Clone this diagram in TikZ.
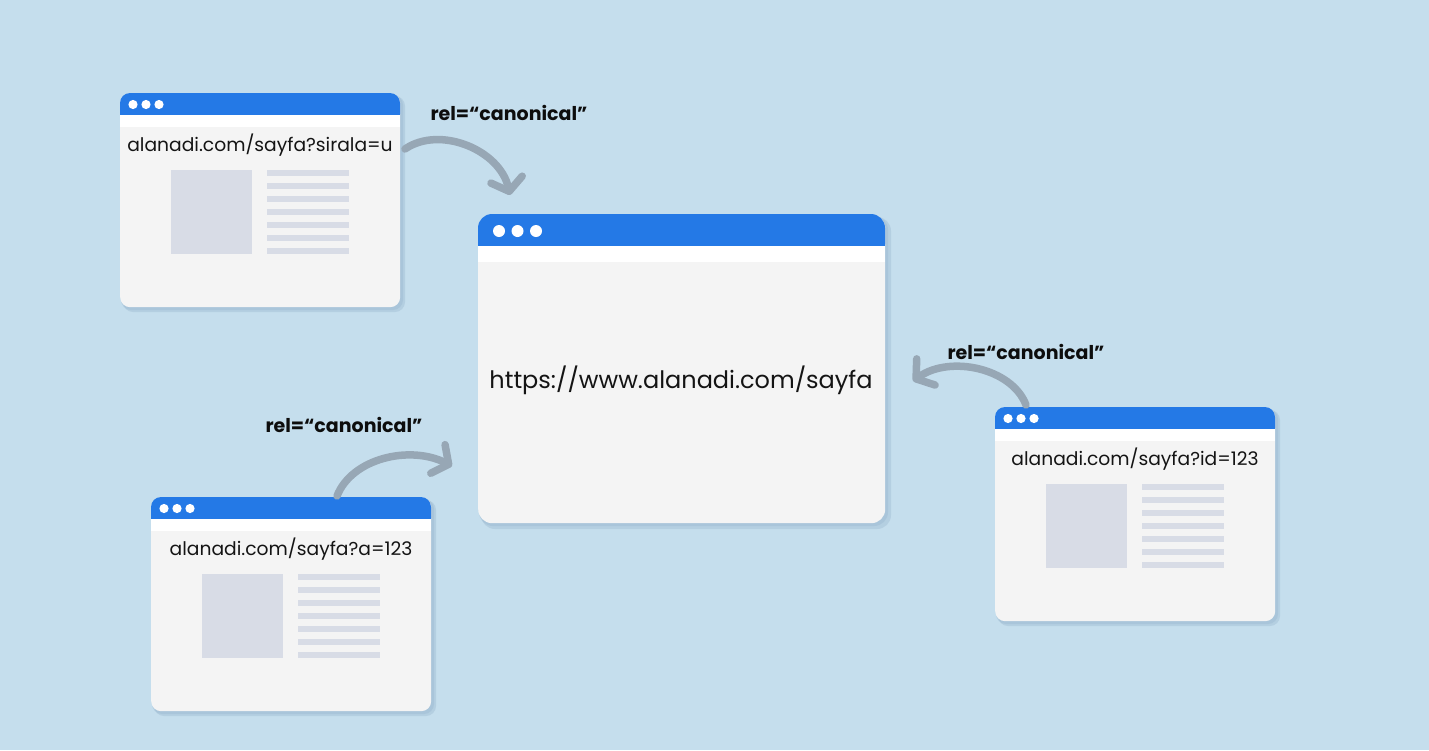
\documentclass[tikz,border=0pt]{standalone}
\usepackage{fontspec}
\setmainfont{Poppins}
\usetikzlibrary{arrows.meta}
\definecolor{bg}{RGB}{197,222,237}
\definecolor{barblue}{RGB}{36,121,230}
\definecolor{winbody}{RGB}{244,244,244}
\definecolor{ph}{RGB}{216,220,230}
\definecolor{arrowgray}{RGB}{151,167,181}
\definecolor{shadowcol}{RGB}{150,180,205}
\newcommand\browserwin[4]{% name, x, y, url
  \fill[shadowcol,opacity=0.35,rounded corners=10pt] (#2+3,#3+3) rectangle (#2+285,#3+219);
  \fill[shadowcol,opacity=0.35,rounded corners=10pt] (#2+1,#3+2) rectangle (#2+283,#3+217);
  \node[winbox,rounded corners=10pt,minimum width=280pt,minimum height=214pt,anchor=north west] (#1) at (#2,#3) {};
  \fill[barblue,rounded corners=10pt] (#2,#3) rectangle (#2+280,#3+31);
  \fill[white] (#2,#3+22) rectangle (#2+280,#3+34);
  \foreach \d in {0,13,26} \fill[white] (#2+13+\d,#3+11.5) circle (4.6pt);
  \node[urlsmall] (#1url) at (#2+140,#3+52) {#4};
  \fill[ph] (#2+51,#3+77) rectangle (#2+132,#3+161);
  \foreach \k in {0,...,6} \fill[ph] (#2+147,#3+77+13*\k) rectangle (#2+229,#3+83+13*\k);
}
\begin{document}
\begin{tikzpicture}[x=1pt,y=-1pt,
  winbox/.style={fill=winbody,draw=none,inner sep=0pt},
  urlsmall/.style={font=\fontsize{18.7}{22}\selectfont,text=black!92,inner sep=0pt},
  urlbig/.style={font=\fontsize{24}{28}\selectfont,text=black!92,inner sep=0pt},
  rellabel/.style={font=\bfseries\fontsize{19}{22}\selectfont,text=black!95,inner sep=0pt},
  canon/.style={draw=arrowgray,line width=7.5pt,line cap=round,
    -{Straight Barb[length=12pt,width=32pt,round,line width=7.5pt]}}]
\useasboundingbox (0,0) rectangle (1429,750);
\fill[bg] (0,0) rectangle (1429,750);

% main window
\fill[shadowcol,opacity=0.35,rounded corners=14pt] (481,217) rectangle (891,529);
\fill[shadowcol,opacity=0.35,rounded corners=14pt] (479,216) rectangle (888,526);
\node[winbox,rounded corners=14pt,minimum width=407pt,minimum height=309pt,anchor=north west] (main) at (478,214) {};
\fill[barblue,rounded corners=14pt] (478,214) rectangle (885,258);
\fill[white] (478,246) rectangle (885,262);
\foreach \d in {0,18.5,37} \fill[white] (499+\d,231) circle (6pt);
\node[urlbig] (mainurl) at (681,380) {https://www.alanadi.com/sayfa};

% small windows
\browserwin{wa}{120}{93}{alanadi.com/sayfa?sirala=u}
\browserwin{wb}{995}{407}{alanadi.com/sayfa?id=123}
\browserwin{wc}{151}{497}{alanadi.com/sayfa?a=123}

% labels
\node[rellabel] (la) at (509,113) {rel=“canonical”};
\node[rellabel] (lb) at (1026,352) {rel=“canonical”};
\node[rellabel] (lc) at (344,425) {rel=“canonical”};

% arrow endpoints
\coordinate (sa) at (405,149);
\coordinate (ta) at (510,195);
\coordinate (sb) at (1026,405);
\coordinate (tb) at (913,381);
\coordinate (sc) at (337,496);
\coordinate (tc) at (452,466);

\draw[canon] (sa) .. controls (440,125) and (500,150) .. (ta);
\draw[canon] (sb) .. controls (1012,368) and (950,355) .. (tb);
\draw[canon] (sc) .. controls (352,458) and (410,445) .. (tc);
\end{tikzpicture}
\end{document}
